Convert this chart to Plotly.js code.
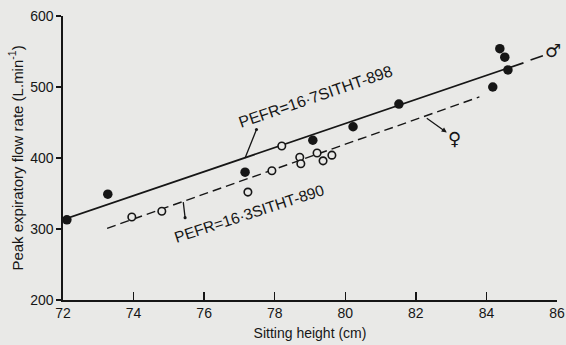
<!DOCTYPE html>
<html>
<head>
<meta charset="utf-8">
<script src="https://cdn.plot.ly/plotly-3.0.1.min.js"></script>
<style>html,body{margin:0;padding:0;background:#e9e9e7;}#chart{width:566px;height:345px;}</style>
</head>
<body>
<div id="chart"></div>
<script>
// Boys (filled circles)
const boysX = [72.11, 73.27, 77.16, 79.08, 80.22, 81.52, 84.18, 84.38, 84.52, 84.61];
const boysY = [313, 349, 380, 425, 444, 476, 500, 554, 542, 524];
// Girls (open circles)
const girlsX = [73.95, 74.80, 77.24, 77.92, 78.20, 78.71, 78.74, 79.20, 79.37, 79.62];
const girlsY = [317, 325, 352, 382, 417, 401, 392, 407, 396, 404];
// Regression lines (end points)
const boysLineX = [72.0, 85.05];
const boysLineY = [313, 534];
const boysTailX = [85.25, 85.6];
const boysTailY = [538, 544];
const girlsLineX = [73.25, 83.8];
const girlsLineY = [301, 486];
// Tick labels
const xTicks = [72, 74, 76, 78, 80, 82, 84, 86];
const yTicks = [200, 300, 400, 500, 600];

const ink = '#161616';
const bg = '#e9e9e7';
const font = 'Liberation Sans, Arial, sans-serif';

const traces = [
  {x: boysLineX, y: boysLineY, mode: 'lines', line: {color: ink, width: 1.7}, hoverinfo: 'skip'},
  {x: boysTailX, y: boysTailY, mode: 'lines', line: {color: ink, width: 1.7}, hoverinfo: 'skip'},
  {x: girlsLineX, y: girlsLineY, mode: 'lines', line: {color: ink, width: 1.4, dash: '9px,5px'}, hoverinfo: 'skip'},
  {x: boysX, y: boysY, mode: 'markers', marker: {symbol: 'circle', size: 9.5, color: ink, line: {width: 0}}},
  {x: girlsX, y: girlsY, mode: 'markers', marker: {symbol: 'circle', size: 7.5, color: bg, line: {color: ink, width: 1.6}}}
];

const layout = {
  width: 566, height: 345,
  margin: {l: 63, r: 9, t: 16, b: 45},
  paper_bgcolor: bg, plot_bgcolor: bg,
  showlegend: false,
  font: {family: font, color: ink, size: 14},
  xaxis: {
    range: [72, 86], tickvals: xTicks, ticktext: xTicks.map(String),
    showgrid: false, zeroline: false, showline: true, linecolor: ink, linewidth: 1.6,
    ticks: 'inside', ticklen: 8, tickwidth: 1.4, tickcolor: ink,
    tickfont: {size: 14, family: font, color: ink},
    title: {text: 'Sitting height (cm)', font: {size: 14, family: font, color: ink}, standoff: 8}
  },
  yaxis: {
    range: [200, 600], tickvals: yTicks, ticktext: yTicks.map(String),
    showgrid: false, zeroline: false, showline: true, linecolor: ink, linewidth: 1.6,
    ticks: 'outside', ticklen: 5, tickwidth: 1.4, tickcolor: ink,
    tickfont: {size: 14, family: font, color: ink},
    title: {text: 'Peak expiratory flow rate (L.min<sup>-1</sup>)', font: {size: 15, family: font, color: ink}, standoff: 3}
  },
  annotations: [
    {x: 79.17, y: 486, xref: 'x', yref: 'y', text: 'PEFR=16·7SITHT-898', showarrow: false, textangle: -19, font: {size: 16, family: font, color: ink}},
    {x: 77.28, y: 322, xref: 'x', yref: 'y', text: 'PEFR=16·3SITHT-890', showarrow: false, textangle: -18, font: {size: 15.5, family: font, color: ink}},
    {x: 77.16, y: 400, xref: 'x', yref: 'y', text: '', showarrow: true, arrowhead: 0, arrowside: 'end+start', startarrowhead: 6, startarrowsize: 0.6, arrowwidth: 1.3, arrowcolor: ink, ax: 12, ay: -30},
    {x: 75.46, y: 316, xref: 'x', yref: 'y', text: '', showarrow: true, arrowhead: 6, arrowsize: 0.6, arrowwidth: 1.3, arrowcolor: ink, ax: -2, ay: -17},
    {x: 82.31, y: 456, xref: 'x', yref: 'y', text: '♀', showarrow: true, arrowside: 'start', startarrowhead: 2, startarrowsize: 0.8, arrowwidth: 1.3, arrowcolor: ink, ax: 28, ay: 20, font: {size: 18, family: 'DejaVu Sans', color: ink}},
    {x: 85.9, y: 552, xref: 'x', yref: 'y', text: '♂', showarrow: false, font: {size: 18, family: 'DejaVu Sans', color: ink}}
  ]
};

Plotly.newPlot('chart', traces, layout, {displayModeBar: false, staticPlot: true});
</script>
</body>
</html>
